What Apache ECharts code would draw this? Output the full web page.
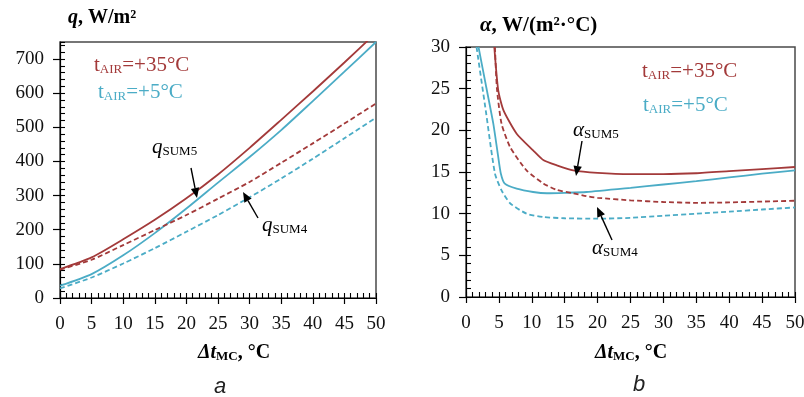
<!DOCTYPE html>
<html><head><meta charset="utf-8">
<script src="https://cdn.jsdelivr.net/npm/echarts@6/dist/echarts.min.js"></script>
<style>html,body{margin:0;padding:0;background:#fff}#c{width:804px;height:397px}</style>
</head><body><div id="c"></div>
<script>
// ---------- DATA ----------
// Chart a: q (W/m²) vs Δt_MC (°C)
const qX = [0, 5, 10, 15, 20, 25, 30, 35, 40, 45, 50];
const qSum5Hot  = [85, 119, 172, 229, 292, 362, 440, 522, 605, 690, 777]; // t_AIR=+35°C, solid
const qSum5Cold = [36, 70, 125, 190, 262, 338, 413, 492, 577, 663, 750];  // t_AIR=+5°C, solid
const qSum4Hot  = [83, 112, 155, 199, 243, 291, 340, 396, 453, 511, 570]; // t_AIR=+35°C, dashed
const qSum4Cold = [28, 60, 101, 146, 194, 243, 295, 350, 408, 468, 528];  // t_AIR=+5°C, dashed

// Chart b: α (W/(m²·°C)) vs Δt_MC (°C)
const aSum5HotX  = [4.3, 4.9, 5.7, 7.7, 10.2, 11.8, 13.8, 16.3, 20, 25, 30, 35, 40, 45, 50];
const aSum5HotY  = [30, 24.8, 22.4, 19.6, 17.6, 16.4, 15.8, 15.2, 14.9, 14.75, 14.75, 14.85, 15.1, 15.35, 15.6];
const aSum5ColdX = [1.9, 3.0, 4.15, 4.9, 5.3, 5.9, 7.7, 10.2, 12.3, 15, 18.3, 25, 30, 35, 40, 45, 50];
const aSum5ColdY = [30, 25.5, 20.8, 16.8, 14.8, 13.6, 13.0, 12.6, 12.45, 12.5, 12.6, 13.1, 13.5, 13.9, 14.35, 14.8, 15.2];
const aSum4HotX  = [4.4, 4.7, 5.4, 6.7, 9.2, 11.8, 13.8, 16.3, 18.3, 20, 25, 30, 35, 40, 45, 50];
const aSum4HotY  = [30, 25, 20.8, 18.0, 15.2, 13.6, 12.85, 12.45, 12.1, 11.9, 11.6, 11.4, 11.3, 11.35, 11.45, 11.55];
const aSum4ColdX = [1.6, 3.0, 4.4, 5.4, 6.7, 9.2, 11.75, 15, 20, 25, 30, 35, 40, 45, 50];
const aSum4ColdY = [30, 22.4, 14.8, 12.8, 11.25, 10.0, 9.6, 9.45, 9.4, 9.5, 9.75, 10.0, 10.25, 10.5, 10.75];

// Tick labels
const xTicks = [0, 5, 10, 15, 20, 25, 30, 35, 40, 45, 50];
const qTicks = [0, 100, 200, 300, 400, 500, 600, 700];
const aTicks = [0, 5, 10, 15, 20, 25, 30];

// ---------- STYLE ----------
const RED = '#A33A3A';
const BLUE = '#4BACC6';
const SERIF = 'Liberation Serif';
const zip = (xs, ys) => xs.map((x, i) => [x, ys[i]]);

const chart = echarts.init(document.getElementById('c'), null, {renderer: 'canvas'});

const G = [
  {left: 60, top: 42, width: 316, height: 256},
  {left: 466, top: 47, width: 329, height: 250}
];

function mainX(gi) {
  return {type: 'value', gridIndex: gi, min: 0, max: 50, interval: 5,
    axisLine: {show: true, onZero: false, lineStyle: {color: '#000', width: 1.2}},
    axisTick: {show: true, inside: false, length: 6, customValues: xTicks, lineStyle: {color: '#000', width: 1.2}},
    axisLabel: {show: true, customValues: xTicks, margin: 17, color: '#111', fontFamily: SERIF, fontSize: 19},
    splitLine: {show: false}};
}
function overX(gi) {
  return {type: 'value', gridIndex: gi, min: 0, max: 50, interval: 1,
    axisLine: {show: false}, axisLabel: {show: false}, splitLine: {show: false},
    axisTick: {show: true, inside: true, length: 5, lineStyle: {color: '#000', width: 1.1}}};
}
function mainY(gi, max, ticks) {
  return {type: 'value', gridIndex: gi, min: 0, max: max,
    interval: ticks[1] - ticks[0],
    axisLine: {show: true, onZero: false, lineStyle: {color: '#000', width: 1.2}},
    axisTick: {show: true, inside: false, length: 7, customValues: ticks, lineStyle: {color: '#000', width: 1.2}},
    axisLabel: {show: true, customValues: ticks, margin: 16, color: '#111', fontFamily: SERIF, fontSize: 19},
    splitLine: {show: false}};
}
function overY(gi, max, step) {
  return {type: 'value', gridIndex: gi, min: 0, max: max, interval: step,
    axisLine: {show: false}, axisLabel: {show: false}, splitLine: {show: false},
    axisTick: {show: true, inside: true, length: 5, lineStyle: {color: '#000', width: 1.1}}};
}
function line(data, color, dashed, axisIdx, sm) {
  return {type: 'line', data: data, xAxisIndex: axisIdx, yAxisIndex: axisIdx,
    showSymbol: false, symbol: 'none', smooth: sm, clip: true,
    lineStyle: {color: color, width: 1.8, type: dashed ? [5, 3] : 'solid'},
    silent: true, animation: false, z: 3};
}

// rich text helpers
function rich(fs, color, bold) {
  const w = bold ? 'bold' : 'normal';
  const base = {fontFamily: SERIF, fontSize: fs, color: color, fontWeight: w, lineHeight: fs, verticalAlign: 'bottom'};
  const sfs = Math.round(fs * 0.64);
  return {
    n: base,
    i: Object.assign({}, base, {fontStyle: 'italic'}),
    s: Object.assign({}, base, {fontSize: sfs, lineHeight: Math.max(1, 0.7 * sfs - 0.1 * fs)})
  };
}
function txt(x, baseline, text, fs, color, bold) {
  return {type: 'text', x: x, y: baseline + 0.15 * fs, z: 10,
    style: {text: text, rich: rich(fs, color, bold), align: 'left', verticalAlign: 'bottom', fill: color}};
}
function arrow(x1, y1, x2, y2) {
  const dx = x2 - x1, dy = y2 - y1, L = Math.hypot(dx, dy);
  const ux = dx / L, uy = dy / L, len = 10, hw = 4.2;
  const bx = x2 - ux * len, by = y2 - uy * len;
  return [
    {type: 'line', z: 10, shape: {x1: x1, y1: y1, x2: bx, y2: by}, style: {stroke: '#000', lineWidth: 1.4}},
    {type: 'polygon', z: 10, shape: {points: [[x2, y2], [bx - uy * hw, by + ux * hw], [bx + uy * hw, by - ux * hw]]}, style: {fill: '#000'}}
  ];
}

const graphics = [
  txt(94, 73, '{n|t}{s|AIR}{n|=+35°C}', 21, RED, false),
  txt(98, 100, '{n|t}{s|AIR}{n|=+5°C}', 21, BLUE, false),
  txt(152, 155, '{i|q}{s|SUM5}', 21, '#000', false),
  txt(262, 233, '{i|q}{s|SUM4}', 21, '#000', false),
  ...arrow(191, 168, 197, 198),
  ...arrow(258, 218, 243, 192),
  txt(642, 79, '{n|t}{s|AIR}{n|=+35°C}', 21, RED, false),
  txt(643, 113, '{n|t}{s|AIR}{n|=+5°C}', 21, BLUE, false),
  txt(573, 138, '{i|α}{s|SUM5}', 21, '#000', false),
  txt(592, 256, '{i|α}{s|SUM4}', 21, '#000', false),
  ...arrow(582, 141, 576, 176),
  ...arrow(612, 240, 597, 207),
  // axis titles
  txt(68, 25, '{i|q}{n|, W/m²}', 20, '#000', true),
  txt(480, 33, '{i|α}{n|, W/(m²·°C)}', 21, '#000', true),
  txt(198, 360, '{i|Δt}{s|MC}{n|, °C}', 20, '#000', true),
  txt(595, 360, '{i|Δt}{s|MC}{n|, °C}', 20, '#000', true),
  // panel letters
  {type: 'text', x: 220, y: 387, z: 10, style: {text: 'a', font: 'italic 22px "Liberation Sans"', fill: '#222', align: 'center', verticalAlign: 'middle'}},
  {type: 'text', x: 639, y: 385, z: 10, style: {text: 'b', font: 'italic 22px "Liberation Sans"', fill: '#222', align: 'center', verticalAlign: 'middle'}}
];

const option = {
  animation: false,
  backgroundColor: '#fff',
  grid: [
    Object.assign({show: true, borderColor: '#4a4a4a', borderWidth: 1.5, backgroundColor: 'transparent', containLabel: false, outerBoundsMode: 'none'}, G[0]),
    Object.assign({show: false, containLabel: false, outerBoundsMode: 'none'}, G[0]),
    Object.assign({show: true, borderColor: '#4a4a4a', borderWidth: 1.5, backgroundColor: 'transparent', containLabel: false, outerBoundsMode: 'none'}, G[1]),
    Object.assign({show: false, containLabel: false, outerBoundsMode: 'none'}, G[1])
  ],
  xAxis: [mainX(0), overX(1), mainX(2), overX(3)],
  yAxis: [mainY(0, 750, qTicks), overY(1, 750, 20), mainY(2, 30, aTicks), overY(3, 30, 1)],
  series: [
    line(zip(qX, qSum5Hot), RED, false, 0, 0.25),
    line(zip(qX, qSum5Cold), BLUE, false, 0, 0.25),
    line(zip(qX, qSum4Hot), RED, true, 0, 0.25),
    line(zip(qX, qSum4Cold), BLUE, true, 0, 0.25),
    line(zip(aSum5HotX, aSum5HotY), RED, false, 2, 0.2),
    line(zip(aSum5ColdX, aSum5ColdY), BLUE, false, 2, 0.2),
    line(zip(aSum4HotX, aSum4HotY), RED, true, 2, 0.2),
    line(zip(aSum4ColdX, aSum4ColdY), BLUE, true, 2, 0.2)
  ],
  graphic: graphics
};
chart.setOption(option);
</script>
</body></html>
